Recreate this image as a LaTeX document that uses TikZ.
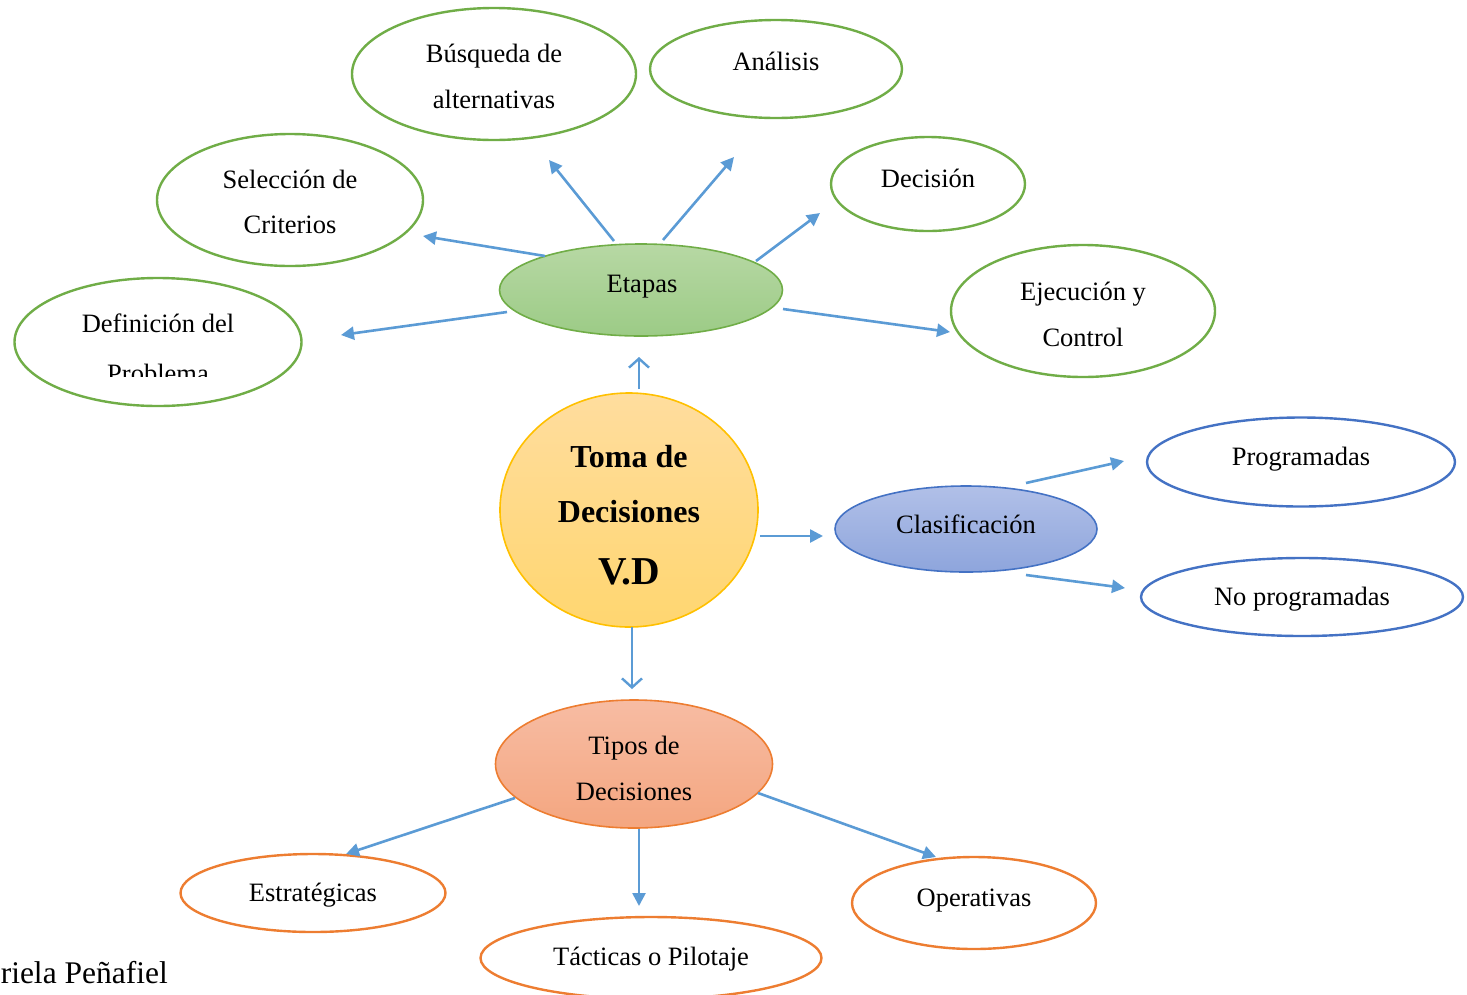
\documentclass[tikz,border=0pt]{standalone}
\usepackage{fontspec}
\setmainfont{Liberation Serif}
\usetikzlibrary{shapes.geometric,arrows.meta}
\definecolor{gborder}{HTML}{70AD47}
\definecolor{bborder}{HTML}{4472C4}
\definecolor{oborder}{HTML}{ED7D31}
\definecolor{yborder}{HTML}{FFC000}
\definecolor{arr}{HTML}{5B9BD5}
\definecolor{gtop}{HTML}{B7D8A4}
\definecolor{gbot}{HTML}{9CCB86}
\definecolor{ytop}{HTML}{FFDD9E}
\definecolor{ybot}{HTML}{FFD670}
\definecolor{btop}{HTML}{B1C0E8}
\definecolor{bbot}{HTML}{8EA5DC}
\definecolor{otop}{HTML}{F7BCA3}
\definecolor{obot}{HTML}{F4A680}
\tikzset{
  x=1pt, y=-1pt,
  oval/.style={ellipse, inner sep=0pt, line width=2.4pt},
  greenoval/.style={oval, draw=gborder, fill=white},
  blueoval/.style={oval, draw=bborder, fill=white},
  orangeoval/.style={oval, draw=oborder, fill=white},
  lbl/.style={font=\fontsize{26.5}{30}\selectfont, inner sep=0pt, anchor=base},
  bigl/.style={font=\fontsize{32}{36}\selectfont\bfseries, inner sep=0pt, anchor=base},
  fa/.style={draw=arr, line width=2.6pt, -{Triangle[width=13pt,length=13pt]}},
  oa/.style={draw=arr, line width=2.4pt, -{Straight Barb[length=9pt,width=20pt,line width=2.4pt]}}
}
\begin{document}
\begin{tikzpicture}
\useasboundingbox (0,0) rectangle (1467,994);
\begin{scope}
\clip (0,0) rectangle (1467,994);
% ellipses
\node[greenoval, minimum width=284pt, minimum height=132pt] (busq) at (494,74) {};
\node[greenoval, minimum width=252pt, minimum height=98pt] (anal) at (776,69) {};
\node[greenoval, minimum width=266pt, minimum height=132pt] (selc) at (290,200) {};
\node[greenoval, minimum width=194pt, minimum height=94pt] (deci) at (928,184) {};
\node[greenoval, minimum width=287pt, minimum height=128pt] (defi) at (158,342) {};
\node[greenoval, minimum width=264pt, minimum height=132pt] (ejec) at (1083,311) {};
\node[oval, draw=gborder, top color=gtop, bottom color=gbot, line width=1.6pt, minimum width=283pt, minimum height=92pt] (etap) at (641,290) {};
\node[oval, draw=yborder, top color=ytop, bottom color=ybot, line width=1.6pt, minimum width=258pt, minimum height=234pt] (toma) at (629,510) {};
\node[oval, draw=bborder, top color=btop, bottom color=bbot, line width=1.6pt, minimum width=262pt, minimum height=86pt] (clas) at (966,529) {};
\node[blueoval, minimum width=308pt, minimum height=89pt] (prog) at (1301,462) {};
\node[blueoval, minimum width=322pt, minimum height=78pt] (nopr) at (1302,597) {};
\node[oval, draw=oborder, top color=otop, bottom color=obot, line width=1.6pt, minimum width=277pt, minimum height=128pt] (tipo) at (634,764) {};
\node[orangeoval, minimum width=265pt, minimum height=78pt] (estr) at (313,893) {};
\node[orangeoval, minimum width=244pt, minimum height=92pt] (oper) at (974,903) {};
\node[orangeoval, minimum width=341pt, minimum height=82pt] (tact) at (651,958) {};
% texts
\node[lbl] (tbusq1) at (494,62) {Búsqueda de};
\node[lbl] (tbusq2) at (494,108) {alternativas};
\node[lbl] (tanal) at (776,70) {Análisis};
\node[lbl] (tselc1) at (290,188) {Selección de};
\node[lbl] (tselc2) at (290,233) {Criterios};
\node[lbl] (tdeci) at (928,187) {Decisión};
\node[lbl] (tdefi1) at (158,332) {Definición del};
\begin{scope}
\clip (0,0) rectangle (1467,376);
\node[lbl] (tdefi2) at (158,382) {Problema};
\end{scope}
\node[lbl] (tetap) at (642,292) {Etapas};
\node[lbl] (tejec1) at (1083,300) {Ejecución y};
\node[lbl] (tejec2) at (1083,346) {Control};
\node[bigl] (ttoma1) at (629,467) {Toma de};
\node[bigl] (ttoma2) at (629,522) {Decisiones};
\node[bigl, font=\fontsize{39.5}{42}\selectfont\bfseries] (ttoma3) at (629,584) {V.D};
\node[lbl] (tclas) at (966,533) {Clasificación};
\node[lbl] (tprog) at (1301,465) {Programadas};
\node[lbl] (tnopr) at (1302,605) {No programadas};
\node[lbl] (ttipo1) at (634,754) {Tipos de};
\node[lbl] (ttipo2) at (634,800) {Decisiones};
\node[lbl] (testr) at (313,901) {Estratégicas};
\node[lbl] (toper) at (974,906) {Operativas};
\node[lbl] (ttact) at (651,965) {Tácticas o Pilotaje};
\node[lbl, font=\fontsize{31.5}{34}\selectfont, anchor=base east] (tauth) at (168,983) {riela Peñafiel};
\end{scope}
% arrow end points
\coordinate (a1s) at (507,312); \coordinate (a1e) at (341,335);
\coordinate (a2s) at (545,256); \coordinate (a2e) at (423,236);
\coordinate (a3s) at (614,241); \coordinate (a3e) at (549,160);
\coordinate (a4s) at (663,240); \coordinate (a4e) at (734,157);
\coordinate (a5s) at (756,261); \coordinate (a5e) at (820,213);
\coordinate (a6s) at (783,309); \coordinate (a6e) at (950,332);
\coordinate (b1s) at (639,389); \coordinate (b1e) at (639,357);
\coordinate (b2s) at (760,536); \coordinate (b2e) at (823,536);
\coordinate (b3s) at (632,627); \coordinate (b3e) at (632,689);
\coordinate (c1s) at (1026,483); \coordinate (c1e) at (1124,461);
\coordinate (c2s) at (1026,575); \coordinate (c2e) at (1125,588);
\coordinate (d1s) at (515,798); \coordinate (d1e) at (346,854);
\coordinate (d2s) at (639,829); \coordinate (d2e) at (639,906);
\coordinate (d3s) at (758,793); \coordinate (d3e) at (936,857);
% arrows
\draw[fa] (a1s) -- (a1e);
\draw[fa] (a2s) -- (a2e);
\draw[fa] (a3s) -- (a3e);
\draw[fa] (a4s) -- (a4e);
\draw[fa] (a5s) -- (a5e);
\draw[fa] (a6s) -- (a6e);
\draw[oa] (b1s) -- (b1e);
\draw[fa] (b2s) -- (b2e);
\draw[oa] (b3s) -- (b3e);
\draw[fa] (c1s) -- (c1e);
\draw[fa] (c2s) -- (c2e);
\draw[fa] (d1s) -- (d1e);
\draw[fa] (d2s) -- (d2e);
\draw[fa] (d3s) -- (d3e);
\end{tikzpicture}
\end{document}
